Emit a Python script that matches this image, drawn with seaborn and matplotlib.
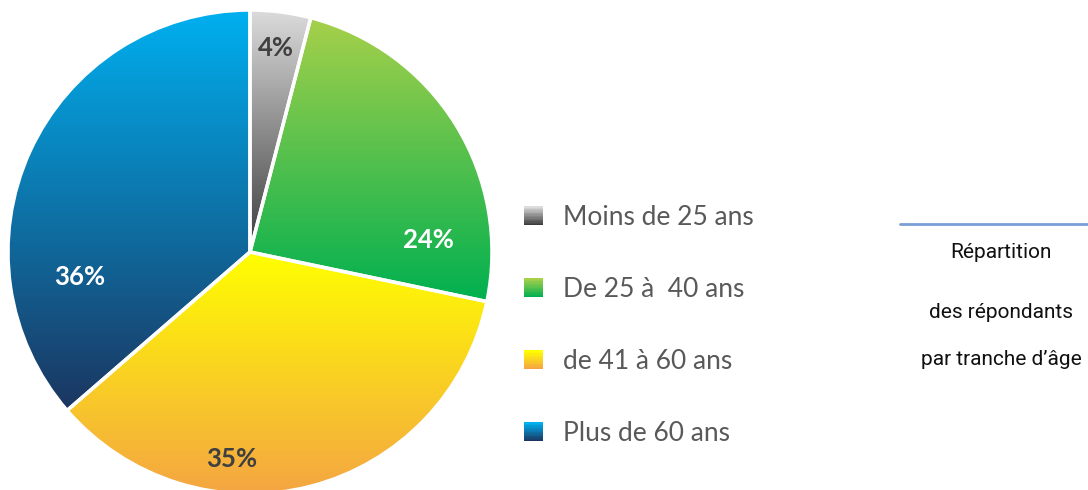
import numpy as np
import matplotlib
matplotlib.use("Agg")
import matplotlib.pyplot as plt
import matplotlib.colors as mcolors
from matplotlib.patches import Rectangle
from matplotlib.legend_handler import HandlerBase
import seaborn as sns

# ---- data ----
categories = ["Moins de 25 ans", "De 25 à  40 ans", "de 41 à 60 ans", "Plus de 60 ans"]
values = [4, 24, 35, 36]
pct_labels = ["4%", "24%", "35%", "36%"]
# gradient colours (top -> bottom) per slice
grad_top = ["#dcdcdc", "#a6d04a", "#ffff00", "#00b0f0"]
grad_bottom = ["#3c3c3c", "#00b050", "#f4a444", "#1b3660"]
label_colors = ["#404040", "#ffffff", "#404040", "#ffffff"]
side_text = ["Répartition", "des répondants", "par tranche d\u2019âge"]

sns.set_theme(style="white")
plt.rcParams["font.family"] = ["Lato", "DejaVu Sans"]

fig = plt.figure(figsize=(10.88, 4.9), dpi=100)

# pie axes
ax = fig.add_axes([8 / 1088, (238 - 242) / 490, 484 / 1088, 484 / 490])
wedges, _ = ax.pie(values, startangle=90, counterclock=False,
                   wedgeprops=dict(linewidth=0))
ax.set_xlim(-1, 1)
ax.set_ylim(-1, 1)
ax.set_aspect("equal")
ax.axis("off")

def gradient_img(top, bottom, n=256):
    c0 = np.array(mcolors.to_rgb(top))
    c1 = np.array(mcolors.to_rgb(bottom))
    t = np.linspace(0, 1, n)[:, None]
    col = c0 * (1 - t) + c1 * t
    return col[:, None, :]

for w, top, bot in zip(wedges, grad_top, grad_bottom):
    v = w.get_path().vertices
    xmin, xmax = v[:, 0].min(), v[:, 0].max()
    ymin, ymax = v[:, 1].min(), v[:, 1].max()
    im = ax.imshow(gradient_img(top, bot), extent=[xmin, xmax, ymin, ymax],
                   origin="upper", aspect="auto", zorder=1, interpolation="bilinear")
    im.set_clip_path(w)
    w.set_facecolor("none")
    w.set_edgecolor("white")
    w.set_linewidth(2.5)
    w.set_zorder(2)

ax.set_xlim(-1, 1)
ax.set_ylim(-1, 1)

# percentage labels (polar placement: radius fraction, angle in degrees clockwise from top)
label_pos = [(0.85, 7.2), (0.74, 86), (0.86, 185), (0.71, 261.6)]
for (r, a), txt, c in zip(label_pos, pct_labels, label_colors):
    th = np.deg2rad(90 - a)
    ax.text(r * np.cos(th), r * np.sin(th), txt, ha="center", va="center",
            fontsize=18.5, fontweight="bold", color=c, zorder=3)

# legend with gradient squares
class GradHandler(HandlerBase):
    def __init__(self, top, bot):
        super().__init__()
        self.top, self.bot = top, bot

    def create_artists(self, legend, orig_handle, xdescent, ydescent, width, height,
                       fontsize, trans):
        n = 14
        side = 19 * 72 / 100
        x0 = -xdescent + (width - side) / 2
        y0 = -ydescent + (height - side) / 2
        c0 = np.array(mcolors.to_rgb(self.top))
        c1 = np.array(mcolors.to_rgb(self.bot))
        arts = []
        for i in range(n):
            t = i / (n - 1)
            col = c0 * t + c1 * (1 - t)
            arts.append(Rectangle((x0, y0 + side * i / n), side, side / n + 0.3,
                                  facecolor=col, edgecolor="none", transform=trans))
        return arts

handles = [Rectangle((0, 0), 1, 1) for _ in categories]
hmap = {h: GradHandler(t, b) for h, t, b in zip(handles, grad_top, grad_bottom)}
leg = fig.legend(handles, categories, handler_map=hmap, loc="center left",
                 bbox_to_anchor=(497 / 1088, 1 - 325 / 490), frameon=False,
                 fontsize=19, labelspacing=1.75, handlelength=1.0, handleheight=1.0,
                 handletextpad=0.6)
for t in leg.get_texts():
    t.set_color("#595959")

# side text block
fig.add_artist(plt.Line2D([900 / 1088, 1.0], [1 - 224 / 490] * 2, color="#7a9ed6",
                          linewidth=2, transform=fig.transFigure))
ys = [252, 312, 359]
for txt, y in zip(side_text, ys):
    fig.text(1001 / 1088, 1 - y / 490, txt, ha="center", va="center", fontsize=15,
             color="#111111", family=["Roboto", "DejaVu Sans"])

fig.savefig("out.png", dpi=100)
